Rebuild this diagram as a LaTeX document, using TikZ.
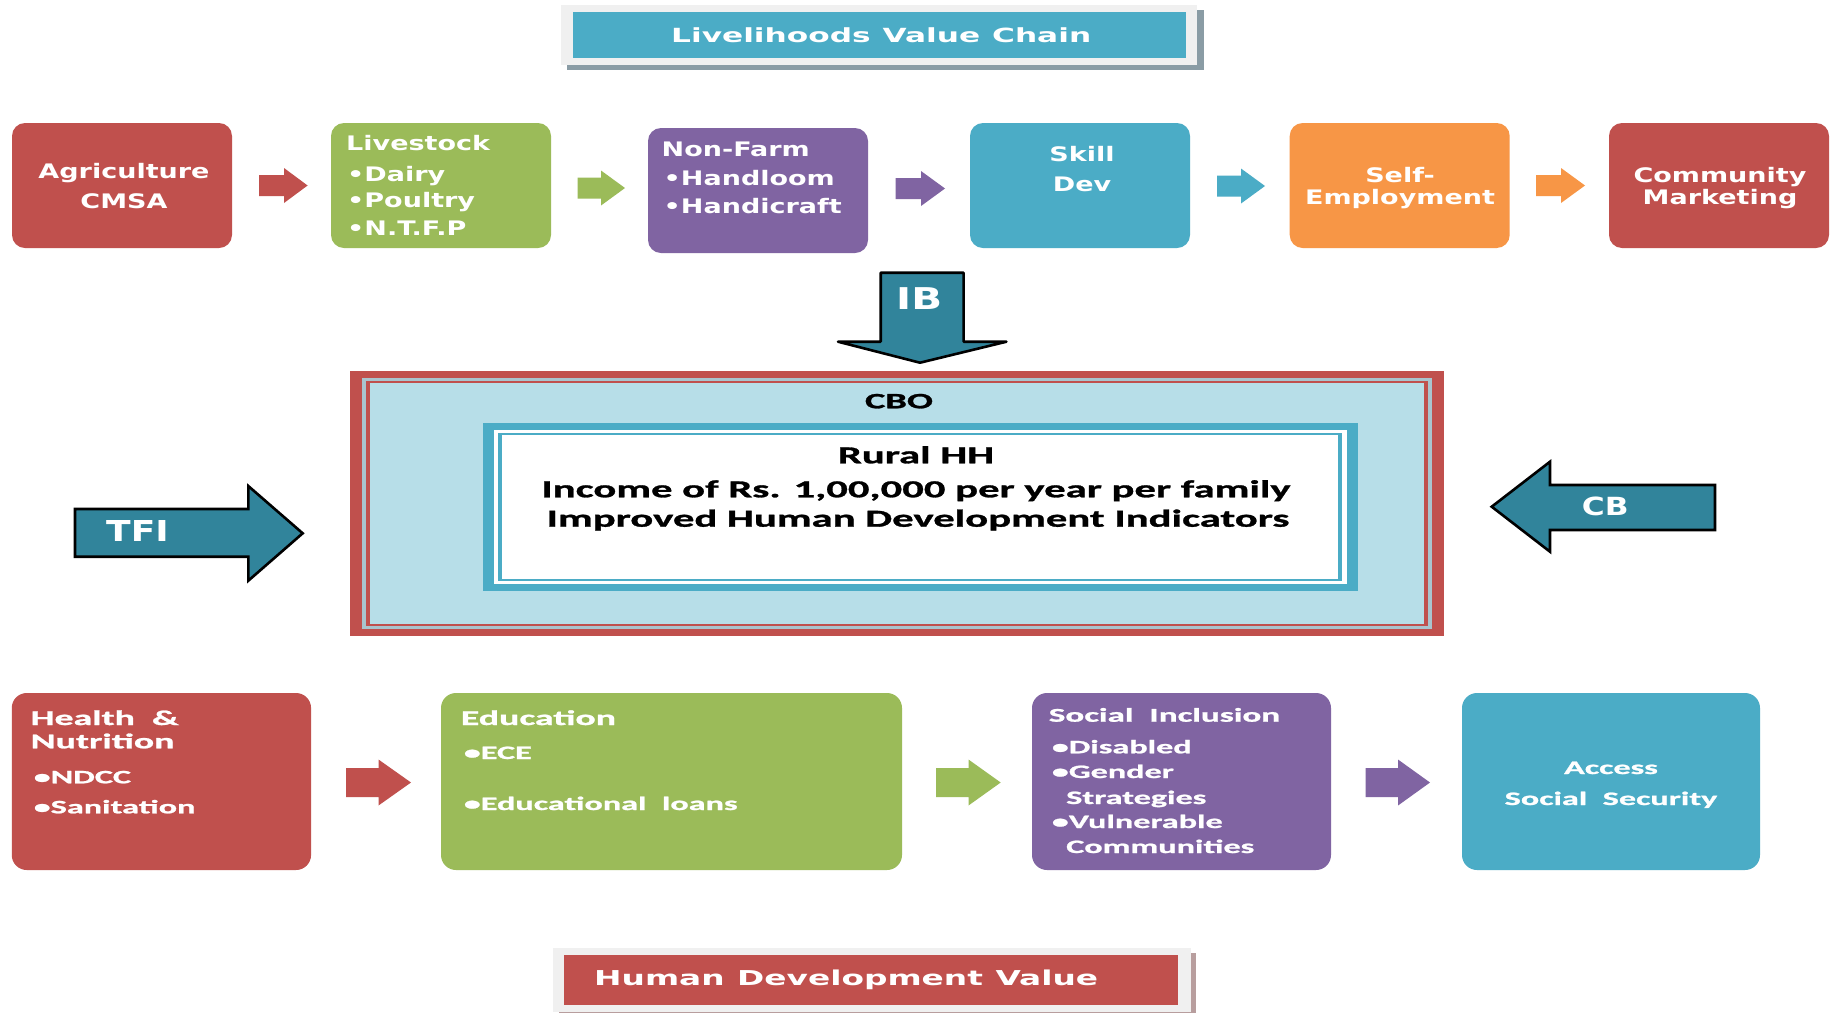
\documentclass[tikz,border=0pt]{standalone}
\usepackage{fontspec}
\setmainfont{DejaVu Sans}
\newfontfamily\vfont{DejaVu Sans}[FakeStretch=1.35]
\newfontfamily\vtfont{DejaVu Sans}[FakeStretch=1.6, WordSpace=1.1]
\newfontfamily\afont{DejaVu Sans}[FakeStretch=1.25]
\newfontfamily\cfont{Carlito}[FakeStretch=1.75, FakeBold=1.2]
\newfontfamily\cbfont{Carlito}[FakeStretch=1.8, FakeBold=1.2, WordSpace=2]
\definecolor{cred}{HTML}{C0504D}
\definecolor{cgreen}{HTML}{9BBB59}
\definecolor{cpurple}{HTML}{8064A2}
\definecolor{cteal}{HTML}{4BACC6}
\definecolor{corange}{HTML}{F79646}
\definecolor{cdark}{HTML}{31849B}
\definecolor{clight}{HTML}{B7DEE8}
\definecolor{cgline}{HTML}{A9C4CE}
\definecolor{cframe}{HTML}{F0F0F0}
\definecolor{cshadowb}{HTML}{8A9CA5}
\definecolor{cshadowr}{HTML}{B89E9E}
\newcommand\flowarr[7]{\fill[#1] (#2,#5-#6) -- (#3,#5-#6) -- (#3,#5-#7) -- (#4,#5) -- (#3,#5+#7) -- (#3,#5+#6) -- (#2,#5+#6) -- cycle;}
\tikzset{
  card/.style={rounded corners=13pt, inner sep=0, minimum width=220pt, minimum height=125pt},
  lcard/.style={rounded corners=15pt, inner sep=0, minimum height=177pt},
  toptext/.style={inner sep=0, text=white, font=\vfont\bfseries\fontsize{20}{24}\selectfont},
  titletext/.style={inner sep=0, text=white, font=\vtfont\bfseries\fontsize{19.5}{24}\selectfont},
  arrtext/.style={inner sep=0, text=white, font=\afont\bfseries\fontsize{28.8}{32}\selectfont},
  headtext/.style={inner sep=0, text=white, font=\cbfont\bfseries\fontsize{21}{25}\selectfont},
  itemtext/.style={inner sep=0, text=white, font=\cbfont\bfseries\fontsize{19}{23}\selectfont},
  midtext/.style={inner sep=0, text=black, font=\cfont\bfseries\fontsize{24.4}{28}\selectfont},
  bigarrow/.style={draw=black, line width=2.6pt, fill=cdark, line join=miter},
}
\begin{document}
\begin{tikzpicture}[x=1pt,y=-1pt]
\useasboundingbox (0,0) rectangle (1837,1013);
\fill[white] (0,0) rectangle (1837,1013);

% ---- top title
\fill[cshadowb] (566.8,10) rectangle (1203.5,70);
\fill[cframe] (560.8,5) rectangle (1197,65);
\node[fill=cteal, inner sep=0, minimum width=613.5pt, minimum height=46.6pt] (title) at (879.25,35) {};
\node[titletext, anchor=base west] (titletxt) at (671,42.5) {Livelihoods Value Chain};

% ---- top row boxes
\node[card, fill=cred] (agri) at (122,185.5) {};
\node[card, fill=cgreen] (live) at (441,185.5) {};
\node[card, fill=cpurple] (nonfarm) at (758,190.5) {};
\node[card, fill=cteal] (skill) at (1080,185.5) {};
\node[card, fill=corange] (self) at (1399.7,185.5) {};
\node[card, fill=cred] (comm) at (1719,185.5) {};

\flowarr{cred}{259}{284}{307.6}{185.5}{10.5}{17.5}
\flowarr{cgreen}{577.6}{601}{625}{188}{10.5}{17.5}
\flowarr{cpurple}{895.6}{921}{945}{188.5}{10.5}{17.5}
\flowarr{cteal}{1217}{1241}{1265}{186}{10.5}{17.5}
\flowarr{corange}{1536}{1561}{1585}{185.5}{10.5}{17.5}

\node[toptext, anchor=base] (agri1) at (124,178.3) {Agriculture};
\node[toptext, anchor=base] (agri2) at (124,208.3) {CMSA};
\node[toptext, anchor=base west] (live1) at (346,150) {Livestock};
\node[toptext, anchor=base west] (live2) at (347,181.7) {•Dairy};
\node[toptext, anchor=base west] (live3) at (347,207.7) {•Poultry};
\node[toptext, anchor=base west] (live4) at (347,235) {•N.T.F.P};
\node[toptext, anchor=base west] (nf1) at (661.5,156.7) {Non-Farm};
\node[toptext, anchor=base west] (nf2) at (663.5,185) {•Handloom};
\node[toptext, anchor=base west] (nf3) at (663.5,213) {•Handicraft};
\node[toptext, anchor=base] (sk1) at (1082,161.7) {Skill};
\node[toptext, anchor=base] (sk2) at (1082,191.7) {Dev};
\node[toptext, anchor=base] (se1) at (1400,182.7) {Self-};
\node[toptext, anchor=base] (se2) at (1400,204) {Employment};
\node[toptext, anchor=base] (cm1) at (1720,182.7) {Community};
\node[toptext, anchor=base] (cm2) at (1720,204) {Marketing};

% ---- IB arrow
\draw[bigarrow, line join=round] (880.7,272.7) -- (963.6,272.7) -- (963.6,341.7) -- (1006.4,341.7) -- (920,362.7) -- (838,341.7) -- (880.7,341.7) -- cycle;
\node[arrtext, anchor=base west, font=\vfont\bfseries\fontsize{30}{34}\selectfont] (ib) at (896,309) {IB};

% ---- central frame
\fill[cred] (350,371) rectangle (1444,636);
\fill[cgline] (361.7,378.3) rectangle (1432.3,628.7);
\fill[cred] (366,380.7) rectangle (1428,626.3);
\node[fill=clight, inner sep=0, minimum width=1054pt, minimum height=240.4pt] (cbo) at (897,503.5) {};
\node[midtext, anchor=base, font=\cfont\bfseries\fontsize{22}{26}\selectfont] (cbotxt) at (899,408.3) {CBO};

\fill[cteal] (482.7,422.7) rectangle (1358,591);
\fill[white] (494,430) rectangle (1346.7,583.7);
\fill[cteal] (498.3,432.7) rectangle (1342.4,581);
\node[fill=white, inner sep=0, minimum width=836.1pt, minimum height=143.7pt] (hh) at (920.35,506.85) {};
\node[midtext, anchor=base] (hh1) at (916,463.3) {Rural HH};
\node[midtext, anchor=base] (hh2) at (916,497.3) {Income of Rs. 1,00,000 per year per family};
\node[midtext, anchor=base] (hh3) at (918,526.7) {Improved Human Development Indicators};

% ---- TFI and CB arrows
\draw[bigarrow] (75,509) -- (248.3,509) -- (248.3,486) -- (302.7,533.3) -- (248.3,580.7) -- (248.3,556.7) -- (75,556.7) -- cycle;
\node[arrtext, anchor=base west] (tfi) at (106,541.7) {TFI};
\draw[bigarrow] (1715,485) -- (1550,485) -- (1550,461.7) -- (1491.7,506.7) -- (1550,551.7) -- (1550,530) -- (1715,530) -- cycle;
\node[arrtext, anchor=base west, font=\afont\bfseries\fontsize{25}{28}\selectfont] (cb) at (1581.7,515) {CB};

% ---- bottom row boxes
\node[lcard, fill=cred, minimum width=299.3pt] (health) at (161.4,781.5) {};
\node[lcard, fill=cgreen, minimum width=461pt] (edu) at (671.5,781.5) {};
\node[lcard, fill=cpurple, minimum width=299pt] (social) at (1181.5,781.5) {};
\node[lcard, fill=cteal, minimum width=298pt] (access) at (1611,781.5) {};

\flowarr{cred}{346}{378.5}{411}{782.5}{14.5}{23}
\flowarr{cgreen}{936}{968.5}{1000.7}{782.5}{14.5}{23}
\flowarr{cpurple}{1365.6}{1398}{1430}{782.5}{14.5}{23}

\node[headtext, anchor=base west] (h1) at (30.5,725) {Health \&};
\node[headtext, anchor=base west] (h2) at (30.5,748.3) {Nutrition};
\node[itemtext, anchor=base west] (h3) at (33.5,783.3) {•NDCC};
\node[itemtext, anchor=base west] (h4) at (33.5,813.3) {•Sanitation};
\node[headtext, anchor=base west] (e1) at (460.7,725) {Education};
\node[itemtext, anchor=base west] (e2) at (463.6,759) {•ECE};
\node[itemtext, anchor=base west] (e3) at (463.6,810) {•Educational loans};
\node[headtext, anchor=base west, font=\cbfont\bfseries\fontsize{19.5}{23}\selectfont] (s1) at (1048.6,721.7) {Social Inclusion};
\node[itemtext, anchor=base west] (s2) at (1051.6,753.3) {•Disabled};
\node[itemtext, anchor=base west] (s3) at (1051.6,778) {•Gender};
\node[itemtext, anchor=base west] (s4) at (1066,804) {Strategies};
\node[itemtext, anchor=base west] (s5) at (1051.6,828) {•Vulnerable};
\node[itemtext, anchor=base west] (s6) at (1066,853) {Communities};
\node[itemtext, anchor=base] (a1) at (1611,774) {Access};
\node[itemtext, anchor=base] (a2) at (1611,805) {Social Security};

% ---- bottom title
\fill[cshadowr] (558.5,953) rectangle (1195.7,1013);
\fill[cframe] (553,948.3) rectangle (1190.5,1011.7);
\node[fill=cred, inner sep=0, minimum width=614.4pt, minimum height=50pt] (hdv) at (871.1,980) {};
\node[titletext, anchor=base west, font=\vtfont\bfseries\fontsize{20.5}{25}\selectfont] (hdvtxt) at (594,985.5) {Human Development Value};
\end{tikzpicture}
\end{document}
